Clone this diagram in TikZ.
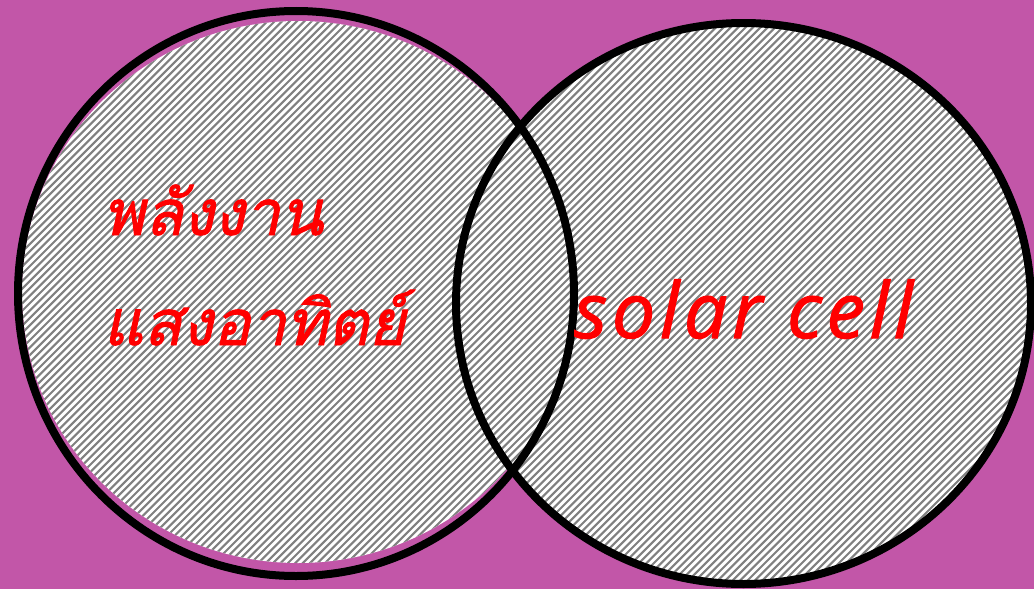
\documentclass[tikz,border=0pt]{standalone}
\usepackage{fontspec}
\newfontfamily\thaifont[Script=Thai,FakeBold=1.5]{Loma}
\newfontfamily\latinfont[LetterSpace=6,FakeBold=1.5]{Open Sans}
\definecolor{bgpurple}{RGB}{194,86,168}
\definecolor{hatchgray}{RGB}{128,128,128}
\definecolor{textred}{RGB}{255,0,0}
\tikzset{
  hatchline/.style={draw=hatchgray, line width=2.1pt},
  ring/.style={draw=black, line width=8pt},
  thailabel/.style={text=textred, font=\thaifont\itshape\fontsize{63}{63}\selectfont, inner sep=0pt, anchor=base west},
  latlabel/.style={text=textred, font=\latinfont\itshape\fontsize{77}{77}\selectfont, inner sep=0pt, anchor=base west}
}
\begin{document}
\begin{tikzpicture}[x=1pt,y=-1pt]
\useasboundingbox (0,0) rectangle (1034,589);
\fill[bgpurple] (0,0) rectangle (1034,589);
% fills
\begin{scope}
  \clip (298,292) ellipse [x radius=276, y radius=271];
  \fill[white] (0,0) rectangle (600,589);
  \foreach \k in {0,...,160} {
    \draw[hatchline] ({-600+7.4*\k},600) -- ({7.4*\k},0);
  }
\end{scope}
\begin{scope}
  \clip (743.5,303.5) ellipse [x radius=288, y radius=281];
  \fill[white] (440,0) rectangle (1040,589);
  \foreach \k in {0,...,165} {
    \draw[hatchline] ({-160+7.4*\k},600) -- ({440+7.4*\k},0);
  }
\end{scope}
% outlines
\draw[ring] (296,293.5) ellipse [x radius=278, y radius=282.5];
\draw[ring] (743.5,303.5) ellipse [x radius=287.5, y radius=280.5];
% texts
\node[thailabel] (t1) at (103,235) {พลังงาน};
\node[thailabel] (t2) at (103,345) {แสงอาทิตย์};
\node[latlabel] (t3) at (574,338) {solar cell};
\end{tikzpicture}
\end{document}
